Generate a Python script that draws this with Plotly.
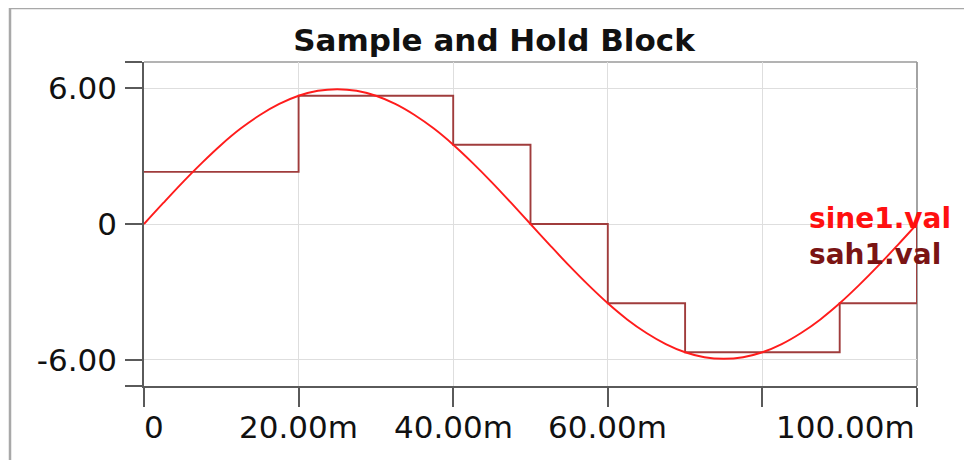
import plotly.graph_objects as go

# time in ms
t_sine = [0, 2.5, 5, 7.5, 10, 12.5, 15, 17.5, 20, 22.5, 25, 27.5, 30, 32.5, 35, 37.5, 40, 42.5, 45, 47.5,
          50, 52.5, 55, 57.5, 60, 62.5, 65, 67.5, 70, 72.5, 75, 77.5, 80, 82.5, 85, 87.5, 90, 92.5, 95, 97.5, 100]
sine_vals = [0, 0.93, 1.84, 2.70, 3.50, 4.21, 4.81, 5.30, 5.66, 5.88, 5.95, 5.88, 5.66, 5.30, 4.81, 4.21,
             3.50, 2.70, 1.84, 0.93, 0, -0.93, -1.84, -2.70, -3.50, -4.21, -4.81, -5.30, -5.66, -5.88,
             -5.95, -5.88, -5.66, -5.30, -4.81, -4.21, -3.50, -2.70, -1.84, -0.93, 0]

t_sah = [0, 20, 40, 50, 60, 70, 90, 100]
sah_vals = [2.3, 5.66, 3.50, 0, -3.50, -5.66, -3.50, 0]

x_tickvals = [0, 20, 40, 60, 80, 100]
x_ticklabels = ["0", "20.00m", "40.00m", "60.00m", "", "100.00m"]
y_tickvals = [-7.149, -6, 0, 6, 7.149]
y_ticklabels = ["", "-6.00", "0", "6.00", ""]

FONT = "DejaVu Sans"
SINE_COLOR = "#ff1c1c"
SAH_COLOR = "#a03c3c"

# page places the figure 8px in from the window's top-left corner
OFF = 8
W, H = 972, 460
# desired plot area in window pixels
WL, WR, WT, WB = 144, 917, 62, 386
L = WL - OFF
T = WT - OFF
pw = WR - WL
ph = WB - WT
R = W - L - pw
B = H - T - ph

def px(xwin):
    return (xwin - WL) / pw

def py(ywin):
    return (WB - ywin) / ph

fig = go.Figure()
fig.add_trace(go.Scatter(x=t_sah, y=sah_vals, mode="lines", line=dict(color=SAH_COLOR, width=1.9, shape="hv"),
                         name="sah1.val", hoverinfo="skip"))
fig.add_trace(go.Scatter(x=t_sine, y=sine_vals, mode="lines", line=dict(color=SINE_COLOR, width=1.9, shape="spline"),
                         name="sine1.val", hoverinfo="skip"))

annotations = []
for v, lab in zip(x_tickvals, x_ticklabels):
    if not lab:
        continue
    if v == 0:
        xa, xs = "left", -2
    elif v == 100:
        xa, xs = "right", 0
    else:
        xa, xs = "center", 0
    annotations.append(dict(x=v, xref="x", y=0, yref="paper", text=lab, showarrow=False,
                            xanchor=xa, yanchor="middle", yshift=-41, xshift=xs,
                            font=dict(family=FONT, size=31, color="#111111")))

annotations.append(dict(x=px(807), xref="paper", y=py(218), yref="paper", text="<b>sine1.val</b>",
                        showarrow=False, xanchor="left", yanchor="middle",
                        font=dict(family=FONT, size=28, color="#ff1010")))
annotations.append(dict(x=px(807), xref="paper", y=py(254), yref="paper", text="<b>sah1.val</b>",
                        showarrow=False, xanchor="left", yanchor="middle",
                        font=dict(family=FONT, size=28, color="#7a1414")))

shapes = [
    # outer frame (left and top)
    dict(type="line", xref="paper", yref="paper", x0=px(10), x1=px(10), y0=py(8), y1=py(470),
         line=dict(color="#a8a8a8", width=2.5)),
    dict(type="line", xref="paper", yref="paper", x0=px(10), x1=px(990), y0=py(8), y1=py(8),
         line=dict(color="#a8a8a8", width=2.5)),
    # plot top and right borders
    dict(type="line", xref="paper", yref="paper", x0=0, x1=1, y0=1, y1=1,
         line=dict(color="#9a9a9a", width=1.5), layer="below"),
    dict(type="line", xref="paper", yref="paper", x0=1, x1=1, y0=0, y1=1,
         line=dict(color="#9a9a9a", width=1.8), layer="below"),
]

fig.update_layout(
    width=W, height=H,
    margin=dict(l=L, r=R, t=T, b=B, autoexpand=False),
    paper_bgcolor="white", plot_bgcolor="white",
    showlegend=False,
    title=dict(text="<b>Sample and Hold Block</b>", x=(494 - OFF) / W, xanchor="center", xref="container",
               y=1 - (40 - OFF) / H, yanchor="middle", yref="container",
               font=dict(family=FONT, size=31, color="#111111")),
    xaxis=dict(range=[0, 100], tickvals=x_tickvals, showticklabels=False,
               ticks="outside", ticklen=19, tickwidth=1.5, tickcolor="#5a5a5a",
               showline=True, linecolor="#5a5a5a", linewidth=1.5,
               showgrid=True, gridcolor="#dedede", gridwidth=1, zeroline=False),
    yaxis=dict(range=[-7.15, 7.15], tickvals=y_tickvals, ticktext=y_ticklabels,
               ticks="outside", ticklen=17, tickwidth=1.5, tickcolor="#5a5a5a",
               showline=True, linecolor="#5a5a5a", linewidth=1.5,
               showgrid=True, gridcolor="#dedede", gridwidth=1, zeroline=False,
               tickfont=dict(family=FONT, size=31, color="#111111"), ticklabelstandoff=2),
    annotations=annotations,
    shapes=shapes,
)

fig.write_html("out.html")
